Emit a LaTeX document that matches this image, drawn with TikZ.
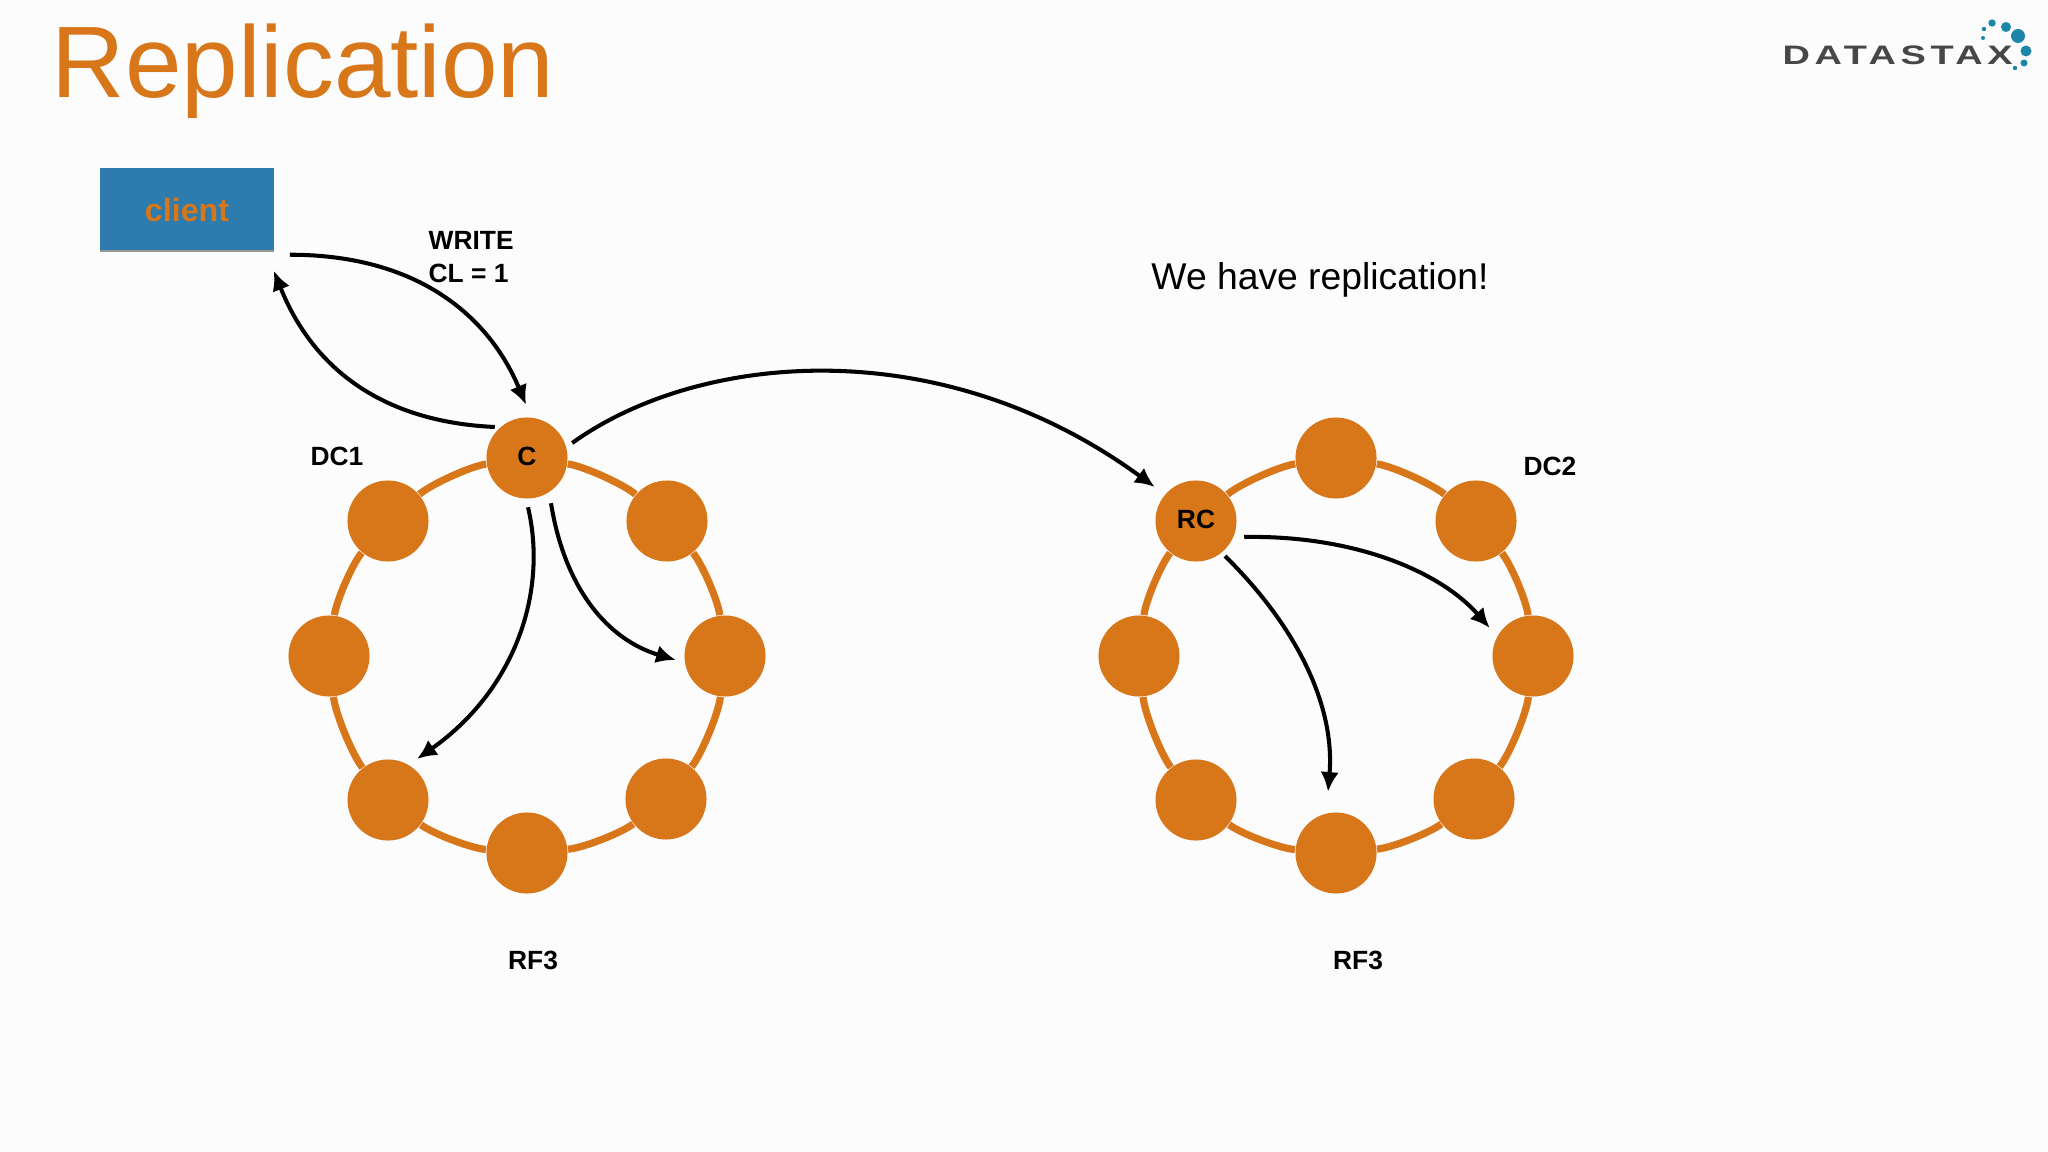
\documentclass[tikz,border=0pt]{standalone}
\usepackage{fontspec}
\setmainfont{Liberation Sans}
\newfontfamily\logofont[LetterSpace=12]{Liberation Sans}
\usetikzlibrary{arrows.meta, shadows}

\definecolor{ringorange}{HTML}{D8761A}
\definecolor{clientblue}{HTML}{2E7CAE}
\definecolor{logoteal}{HTML}{1C86A8}
\definecolor{pagegray}{HTML}{FDFCFD}

\tikzset{
    ringnode/.style={circle, fill=ringorange, minimum size=0.81cm, inner sep=0pt, text depth=1pt, font=\fontsize{7.5}{9}\selectfont\bfseries},
    ringline/.style={draw=ringorange, line width=2.05pt, bend left=16, looseness=0.55},
    msg/.style={-{Latex[length=5.6pt, width=5.2pt]}, line width=1.15pt},
    lbl/.style={font=\fontsize{7.5}{9.3}\selectfont\bfseries, inner sep=0pt},
    logodot/.style={fill=logoteal}
}

\begin{document}
\begin{tikzpicture}[x=0.01cm, y=0.01cm]
    \useasboundingbox (0, -1152) rectangle (2048, 0);
    \fill[pagegray] (0, -1152) rectangle (2048, 0);

    \node[anchor=base west, inner sep=0pt, text=ringorange, font=\fontsize{28.9}{30}\selectfont] (title) at (51, -98) {Replication};

    \node[anchor=west, inner sep=0pt, text=black!72, font=\fontsize{7.6}{9}\selectfont\logofont\bfseries] (logo) at (1782, -55) {\scalebox{1.42}[1]{DATASTAX}};
    \fill[logodot] (2018, -36) circle (7);
    \fill[logodot] (2006, -27) circle (5);
    \fill[logodot] (1992, -23) circle (3.7);
    \fill[logodot] (1984, -29) circle (2.2);
    \fill[logodot] (1983, -38) circle (2);
    \fill[logodot] (2026, -51) circle (5.5);
    \fill[logodot] (2024, -63) circle (3.5);
    \fill[logodot] (2015, -68) circle (2.2);

    \node[fill=clientblue, minimum width=1.74cm, minimum height=0.82cm, inner sep=0pt, text=ringorange, text height=7.2pt,
          font=\fontsize{9.15}{11}\selectfont\bfseries,
          drop shadow={shadow xshift=0pt, shadow yshift=-0.6pt, fill=black!80, opacity=0.5}] (client) at (187, -209) {client};

    % first ring
    \node[ringnode] (c) at (527, -458) {C};
    \node[ringnode] (a2) at (667, -521) {};
    \node[ringnode] (a3) at (725, -656) {};
    \node[ringnode] (a4) at (666, -799) {};
    \node[ringnode] (a5) at (527, -853) {};
    \node[ringnode] (a6) at (388, -800) {};
    \node[ringnode] (a7) at (329, -656) {};
    \node[ringnode] (a8) at (388, -521) {};

    \draw[ringline] (c) to (a2);
    \draw[ringline] (a2) to (a3);
    \draw[ringline] (a3) to (a4);
    \draw[ringline] (a4) to (a5);
    \draw[ringline] (a5) to (a6);
    \draw[ringline] (a6) to (a7);
    \draw[ringline] (a7) to (a8);
    \draw[ringline] (a8) to (c);

    % second ring
    \node[ringnode] (rc) at (1196, -521) {RC};
    \node[ringnode] (b2) at (1336, -458) {};
    \node[ringnode] (b3) at (1476, -521) {};
    \node[ringnode] (b4) at (1533, -656) {};
    \node[ringnode] (b5) at (1474, -799) {};
    \node[ringnode] (b6) at (1336, -853) {};
    \node[ringnode] (b7) at (1196, -800) {};
    \node[ringnode] (b8) at (1139, -656) {};

    \draw[ringline] (rc) to (b2);
    \draw[ringline] (b2) to (b3);
    \draw[ringline] (b3) to (b4);
    \draw[ringline] (b4) to (b5);
    \draw[ringline] (b5) to (b6);
    \draw[ringline] (b6) to (b7);
    \draw[ringline] (b7) to (b8);
    \draw[ringline] (b8) to (rc);

    \node[lbl, anchor=west, align=left] (write) at (428, -257) {WRITE\\CL = 1};
    \node[lbl] (dc1) at (337, -456) {DC1};
    \node[lbl] (dc2) at (1550, -466) {DC2};
    \node[lbl] (rf1) at (533, -960) {RF3};
    \node[lbl] (rf2) at (1358, -960) {RF3};
    \node[inner sep=0pt, font=\fontsize{10.6}{12}\selectfont] (note) at (1320, -280) {We have replication!};

    \draw[msg] ([shift={(15, -4)}]client.south east) .. controls +(131, 0) and +(-36, 86) .. ([shift={(-1, 12)}]c.north);
    \draw[msg] ([shift={(9, 31)}]c.west) .. controls +(-110, 5) and +(40, -100) .. ([shift={(-1, -20)}]client.south east);
    \draw[msg] ([shift={(4, 15)}]c.east) .. controls +(125, 90) and +(-216, 158) .. ([shift={(0, 34)}]rc.west);
    \draw[msg] ([shift={(1, -8)}]c.south) .. controls +(20, -85) and +(98, 69) .. ([shift={(29, 41)}]a6.center);
    \draw[msg] ([shift={(24, -4)}]c.south) .. controls +(14, -87) and +(-67, 20) .. ([shift={(-8, -4)}]a3.west);
    \draw[msg] ([shift={(7, -16)}]rc.east) .. controls +(107, 2) and +(-51, 58) .. ([shift={(-2, 28)}]b4.west);
    \draw[msg] ([shift={(29, -35)}]rc.center) .. controls +(75, -74) and +(7, 83) .. ([shift={(-8, 20)}]b6.north);
\end{tikzpicture}
\end{document}
